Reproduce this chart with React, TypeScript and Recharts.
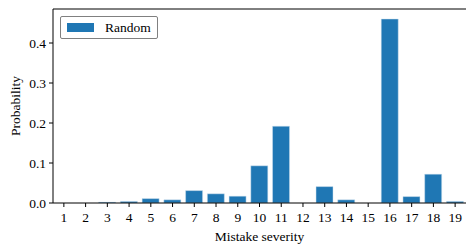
import React from 'react';
import { BarChart, Bar, XAxis, YAxis, ReferenceLine } from 'recharts';

const severities = ['1','2','3','4','5','6','7','8','9','10','11','12','13','14','15','16','17','18','19'];
const randomProb = [0, 0, 0.002, 0.004, 0.011, 0.008, 0.031, 0.023, 0.017, 0.093, 0.192, 0, 0.041, 0.008, 0, 0.46, 0.016, 0.072, 0.004];
const yTicks = [0, 0.1, 0.2, 0.3, 0.4];
const yMax = 0.485;
const seriesName = 'Random';

const data = severities.map((s, i) => ({ severity: s, random: randomProb[i] }));

const FONT = 'Liberation Serif';
const tickStyle = { fontFamily: FONT, fontSize: 13.5, fill: '#000' };

const LegendBox = () => (
  <div style={{
    position: 'absolute', left: 60, top: 16,
    border: '1px solid #808080', borderRadius: 2, background: '#fff',
    width: 96, height: 21, display: 'flex', alignItems: 'center',
    fontFamily: FONT, fontSize: 13.5, color: '#000', boxSizing: 'content-box'
  }}>
    <div style={{ width: 27, height: 9, background: '#1f77b4', marginLeft: 6, marginRight: 11 }} />
    <span>{seriesName}</span>
  </div>
);

const YLabel = (props: any) => {
  const vb = props.viewBox || {};
  const cx = 15;
  const cy = vb.y + vb.height / 2;
  return (
    <text x={cx} y={cy} transform={`rotate(-90 ${cx} ${cy})`} textAnchor="middle" dominantBaseline="central"
      fontFamily={FONT} fontSize={13.5} fill="#000">Probability</text>
  );
};

const XLabel = (props: any) => {
  const vb = props.viewBox || {};
  const cx = vb.x + vb.width / 2;
  const cy = 236;
  return (
    <text x={cx} y={cy} textAnchor="middle" dominantBaseline="central"
      fontFamily={FONT} fontSize={13.5} fill="#000">Mistake severity</text>
  );
};

export default function App() {
  return (
    <div style={{ position: 'absolute', left: 0, top: 0, width: 476, height: 252, background: '#fff' }}>
      <BarChart width={476} height={252} data={data} margin={{ top: 9, right: 10, bottom: 0, left: 0 }}
        barCategoryGap="10%">
        <XAxis dataKey="severity" height={49} interval={0} tickSize={4} tickMargin={5}
          axisLine={{ stroke: '#000', strokeWidth: 1 }} tickLine={{ stroke: '#000' }} tick={tickStyle}
          label={<XLabel />} />
        <YAxis width={53} domain={[0, yMax]} ticks={yTicks} tickFormatter={(v: number) => v.toFixed(1)}
          tickSize={4} tickMargin={3} axisLine={{ stroke: '#000', strokeWidth: 1 }} tickLine={{ stroke: '#000' }}
          tick={tickStyle} label={<YLabel />} allowDataOverflow />
        <YAxis yAxisId="right" orientation="right" width={0} domain={[0, yMax]} tick={false} tickLine={false}
          axisLine={{ stroke: '#000', strokeWidth: 1 }} />
        <ReferenceLine y={yMax} stroke="#000" strokeWidth={1} />
        <Bar dataKey="random" name={seriesName} fill="#1f77b4" stroke="#cfe0ee" strokeWidth={0.5} isAnimationActive={false} />
      </BarChart>
      <LegendBox />
    </div>
  );
}
